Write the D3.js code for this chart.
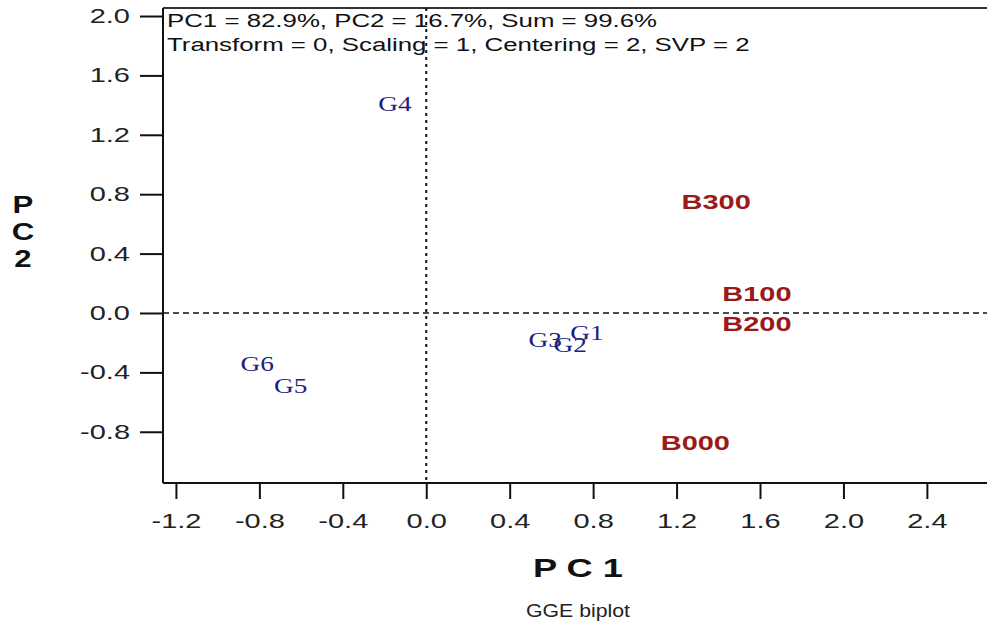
<!DOCTYPE html>
<html><head><meta charset="utf-8">
<script src="https://cdn.jsdelivr.net/npm/d3@7"></script>
<style>body{margin:0;background:#fff}svg{display:block}</style>
</head><body><svg id="c" width="987" height="625"></svg>
<script>
const genotypes = ["G1","G2","G3","G4","G5","G6"];
const genoPC1 = [0.77, 0.69, 0.57, -0.15, -0.65, -0.81];
const genoPC2 = [-0.135, -0.215, -0.18, 1.41, -0.49, -0.34];
const envs = ["B000","B100","B200","B300"];
const envPC1 = [1.29, 1.585, 1.585, 1.39];
const envPC2 = [-0.87, 0.13, -0.07, 0.75];
const xTicks = [-1.2,-0.8,-0.4,0.0,0.4,0.8,1.2,1.6,2.0,2.4];
const yTicks = [-0.8,-0.4,0.0,0.4,0.8,1.2,1.6,2.0];
const headerLines = ["PC1 = 82.9%, PC2 = 16.7%, Sum = 99.6%","Transform = 0, Scaling = 1, Centering = 2, SVP = 2"];

const svg = d3.select("#c");
const L=163, R=988, T=8, B=483;
const x = d3.scaleLinear().domain([-1.262, 2.693]).range([L, R]);
const y = d3.scaleLinear().domain([-1.145, 2.054]).range([B, T]);
const SANS = "Liberation Sans, Arial, sans-serif";
const fmt = d => d3.format(".1f")(d).replace("\u2212","-");

// box
svg.append("line").attr("x1",L).attr("x2",R).attr("y1",T).attr("y2",T).attr("stroke","#333").attr("stroke-width",2);
svg.append("line").attr("x1",L).attr("x2",R).attr("y1",B).attr("y2",B).attr("stroke","#111").attr("stroke-width",2);
svg.append("line").attr("x1",L).attr("x2",L).attr("y1",T).attr("y2",B).attr("stroke","#111").attr("stroke-width",2);

// axes
const xAxis = d3.axisBottom(x).tickValues(xTicks).tickFormat(fmt).tickSize(16).tickPadding(15);
const gx = svg.append("g").attr("transform",`translate(0,${B})`).call(xAxis);
gx.select(".domain").remove();
gx.selectAll("line").attr("stroke","#111").attr("stroke-width",2);
gx.selectAll("text").attr("font-family",SANS).attr("font-size",20).attr("fill","#222")
  .attr("transform","scale(1.45,1)");

const yAxis = d3.axisLeft(y).tickValues(yTicks).tickFormat(fmt).tickSize(23).tickPadding(10);
const gy = svg.append("g").attr("transform",`translate(${L},0)`).call(yAxis);
gy.select(".domain").remove();
gy.selectAll("line").attr("stroke","#111").attr("stroke-width",2);
gy.selectAll("text").attr("font-family",SANS).attr("font-size",20).attr("fill","#222")
  .attr("x",0).attr("transform","translate(-33,0) scale(1.45,1)");

// reference lines
svg.append("line").attr("x1",x(0)).attr("x2",x(0)).attr("y1",T).attr("y2",B).attr("stroke","#111").attr("stroke-width",2).attr("stroke-dasharray","3,4");
svg.append("line").attr("x1",L).attr("x2",R).attr("y1",y(0)).attr("y2",y(0)).attr("stroke","#111").attr("stroke-width",1.4).attr("stroke-dasharray","6,4");

// header
svg.append("g").selectAll("text").data(headerLines).join("text")
  .attr("transform",(d,i)=>`translate(167,${27+i*24}) scale(1.36,1)`)
  .attr("font-family",SANS).attr("font-size",19).attr("fill","#111").text(d=>d);

// genotypes
const gd = genotypes.map((g,i)=>({n:g,px:genoPC1[i],py:genoPC2[i]}));
svg.append("g").selectAll("text").data(gd).join("text")
  .attr("transform",d=>`translate(${x(d.px)},${y(d.py)}) scale(1.3,1)`)
  .attr("dy","0.35em").attr("text-anchor","middle")
  .attr("font-family","Liberation Serif, Times New Roman, serif").attr("font-size",21).attr("fill","#202080").text(d=>d.n);

// environments
const ed = envs.map((e,i)=>({n:e,px:envPC1[i],py:envPC2[i]}));
svg.append("g").selectAll("text").data(ed).join("text")
  .attr("transform",d=>`translate(${x(d.px)},${y(d.py)}) scale(1.38,1)`)
  .attr("dy","0.35em").attr("text-anchor","middle")
  .attr("font-family",SANS).attr("font-weight","bold").attr("font-size",21).attr("fill","#9a1a1a").text(d=>d.n);

// axis titles
svg.append("text").attr("transform","translate(578,577) scale(1.45,1)").attr("text-anchor","middle")
  .attr("font-family",SANS).attr("font-weight","bold").attr("font-size",25).attr("fill","#111").text("P C 1");
svg.append("g").selectAll("text").data(["P","C","2"]).join("text")
  .attr("transform",(d,i)=>`translate(23,${213+i*27}) scale(1.3,1)`).attr("text-anchor","middle")
  .attr("font-family",SANS).attr("font-weight","bold").attr("font-size",24).attr("fill","#111").text(d=>d);
svg.append("text").attr("transform","translate(578,617) scale(1.18,1)").attr("text-anchor","middle")
  .attr("font-family",SANS).attr("font-size",18).attr("fill","#222").text("GGE biplot");
</script></body></html>
